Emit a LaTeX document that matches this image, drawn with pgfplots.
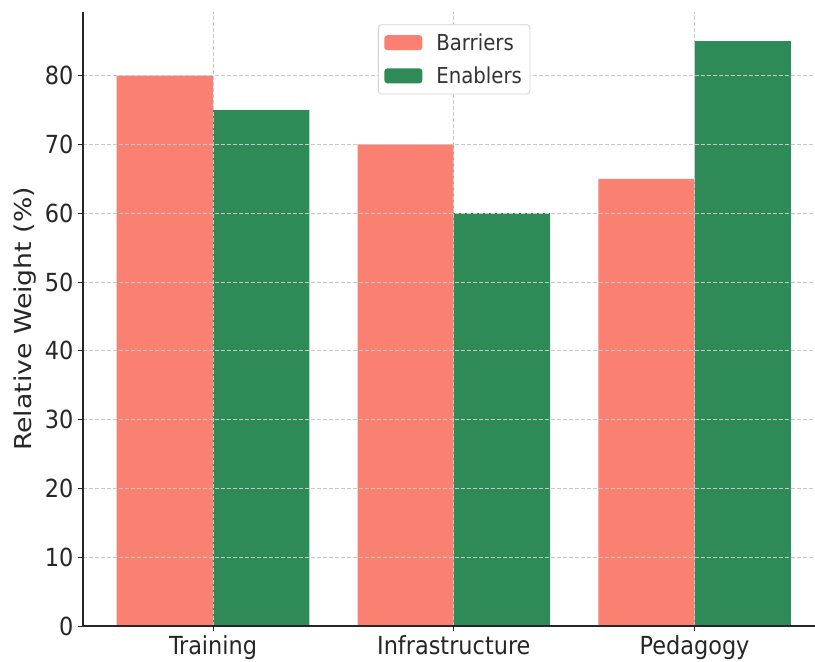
\documentclass[border=0pt]{standalone}
\usepackage{fontspec}
\setmainfont{DejaVu Sans}
\newfontfamily\cond{DejaVu Sans Condensed}
\newfontfamily\wide[FakeStretch=1.15]{DejaVu Sans}
\usepackage{pgfplots}
\pgfplotsset{compat=1.18}
\definecolor{salmon}{HTML}{FA8072}
\definecolor{seagreen}{HTML}{2E8B57}
\definecolor{gridgray}{HTML}{C8C8C8}
\begin{document}
\begin{tikzpicture}
\begin{axis}[
  scale only axis,
  width=732bp, height=614bp,
  xmin=-0.54, xmax=2.5,
  ymin=0, ymax=89.25,
  xtick={0,1,2},
  xticklabels={Training,Infrastructure,Pedagogy},
  ytick={0,10,20,30,40,50,60,70,80},
  axis lines*=left,
  axis line style={line width=1.4bp, black!85},
  tick align=outside,
  major tick length=5bp,
  tick style={line width=1bp, black!85},
  xmajorgrids, ymajorgrids,
  grid style={dashed, gridgray, line width=0.9bp, dash pattern=on 4bp off 2bp},
  axis on top,
  /pgf/number format/assume math mode=true,
  ticklabel style={font=\cond\fontsize{25}{29}\selectfont, text=black!85},
  xticklabel style={yshift=-1bp},
  yticklabel style={xshift=-1bp},
  ylabel={Relative Weight (\%)},
  ylabel style={font=\wide\fontsize{23.3}{27}\selectfont, text=black!85, yshift=2bp},
  legend style={at={(0.507,0.980)}, anchor=north, draw=gray!35, rounded corners=3bp,
    line width=0.8bp, font=\cond\fontsize{22}{26}\selectfont, text=black!80,
    inner xsep=6bp, inner ysep=7bp, row sep=11bp, column sep=12bp},
  legend cell align=left,
  legend image code/.code={\fill[#1] (0bp,-7.5bp) rectangle (38bp,7.5bp);},
]
\addplot[ybar, bar width=0.4, bar shift=-0.2, fill=salmon, draw=none] coordinates {(0,80) (1,70) (2,65)};
\addplot[ybar, bar width=0.4, bar shift=0.2, fill=seagreen, draw=none] coordinates {(0,75) (1,60) (2,85)};
\legend{Barriers,Enablers}
\end{axis}
\pgfresetboundingbox
\path ([shift={(-83bp,-36bp)}]current axis.south west) rectangle ([shift={(0bp,12bp)}]current axis.north east);
\end{tikzpicture}
\end{document}
